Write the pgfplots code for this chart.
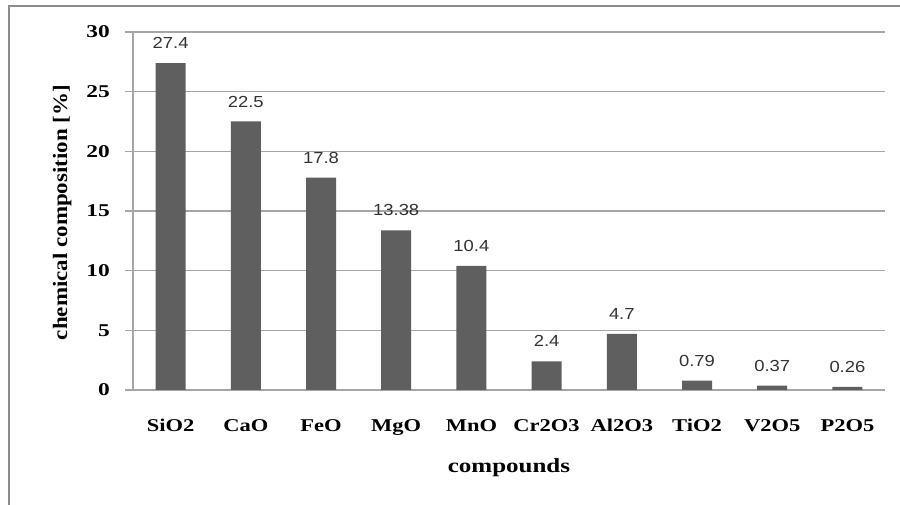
\documentclass[border=0pt]{standalone}
\usepackage{fontspec}
\usepackage{pgfplots}
\pgfplotsset{compat=1.18}
\newfontfamily\lbl{Liberation Serif}[FakeStretch=1.25]
\newfontfamily\lblx{Liberation Serif}[FakeStretch=1.3]
\newfontfamily\lbly{Liberation Serif}[FakeStretch=1.12]
\newfontfamily\val{Liberation Sans}[FakeStretch=1.15]
\definecolor{bargray}{HTML}{5F5F5F}
\definecolor{gridgray}{HTML}{A6A6A6}
\definecolor{framegray}{HTML}{8C8C8C}

\begin{document}
\begin{tikzpicture}[x=1pt,y=1pt]
\useasboundingbox (0,0) rectangle (900,505);
\fill[white] (0,0) rectangle (900,505);
\draw[framegray, line width=2pt] (9,0) -- (9,499) -- (900,499);
\begin{axis}[
  at={(133pt,115pt)}, anchor=south west,
  scale only axis, width=752pt, height=358pt,
  xmin=-0.5, xmax=9.5, ymin=0, ymax=30,
  ytick={0,5,...,30},
  xtick={0,...,9},
  xticklabels={SiO2,CaO,FeO,MgO,MnO,Cr2O3,Al2O3,TiO2,V2O5,P2O5},
  axis x line*=bottom, axis y line*=left,
  axis line style={gridgray, line width=1.5pt, -},
  ymajorgrids, grid style={gridgray, line width=1.5pt},
  tick align=outside,
  major tick length=8pt,
  ytick style={gridgray, line width=1.5pt},
  xtick style={draw=none},
  /pgf/number format/assume math mode=true,
  yticklabel style={font=\fontsize{18}{18}\selectfont\lblx\bfseries, anchor=east, inner sep=0pt, xshift=-15pt},
  xticklabel style={font=\fontsize{18}{18}\selectfont\lbl\bfseries, anchor=base, inner sep=0pt, yshift=-34pt},
  xlabel={compounds},
  xlabel style={font=\fontsize{20}{20}\selectfont\lbl\bfseries, at={(rel axis cs:0.5,0)}, anchor=base, inner sep=0pt, yshift=-83pt},
  nodes near coords={\pgfmathprintnumber[fixed,precision=2,assume math mode=true]{\pgfplotspointmeta}},
  every node near coord/.append style={font=\fontsize{16}{16}\selectfont\val, color=black!80, anchor=center, inner sep=0pt, yshift=20pt},
]
\addplot[ybar, bar width=30pt, bar shift=0pt, fill=bargray, draw=none]
  coordinates {(0,27.4) (1,22.5) (2,17.8) (3,13.38) (4,10.4) (5,2.4) (6,4.7) (7,0.79) (8,0.37) (9,0.26)};
\end{axis}
% vertical axis title
\node[rotate=90, anchor=base, inner sep=0pt, font=\fontsize{20.5}{20.5}\selectfont\lbly\bfseries] at (67,292.5) {chemical composition [\%]};
\end{tikzpicture}
\end{document}
